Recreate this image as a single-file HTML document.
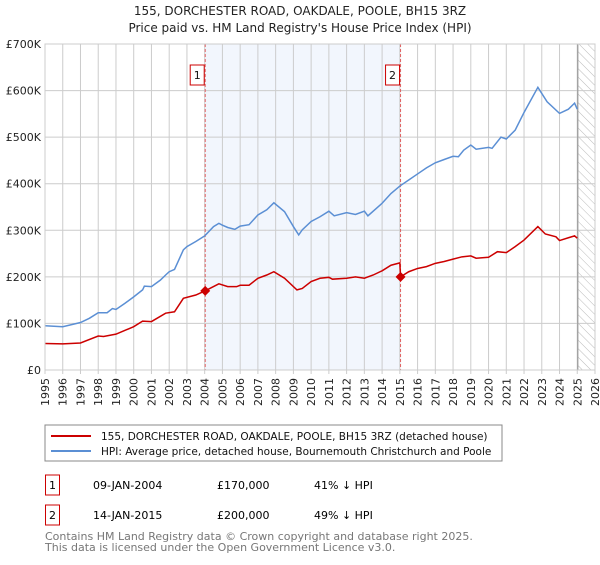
<!DOCTYPE html>
<html><head><meta charset="utf-8"><style>
body{margin:0;background:#fff;font-family:"Liberation Sans","DejaVu Sans",sans-serif;}
svg text{font-family:"DejaVu Sans","Liberation Sans",sans-serif;}
</style></head><body>
<svg id="chart" width="600" height="560" viewBox="0 0 600 560" xmlns="http://www.w3.org/2000/svg">
<defs><pattern id="hatch" width="6" height="6" patternUnits="userSpaceOnUse" patternTransform="rotate(-45)"><line x1="0" y1="0" x2="0" y2="6" stroke="#bbb" stroke-width="1"/></pattern></defs>
<text x="300" y="15" text-anchor="middle" font-size="12" fill="#222">155, DORCHESTER ROAD, OAKDALE, POOLE, BH15 3RZ</text>
<text x="300" y="32" text-anchor="middle" font-size="12" fill="#222">Price paid vs. HM Land Registry's House Price Index (HPI)</text>
<g id="grid"></g><g id="marks"></g><g id="axes"></g>
<rect x="45" y="425" width="457" height="36" fill="#fff" stroke="#888"/>
<line x1="51" y1="436" x2="91" y2="436" stroke="#cc0000" stroke-width="2"/>
<text x="101" y="440" font-size="10.5" fill="#111">155, DORCHESTER ROAD, OAKDALE, POOLE, BH15 3RZ (detached house)</text>
<line x1="51" y1="451" x2="91" y2="451" stroke="#5b8fd4" stroke-width="2"/>
<text x="101" y="455" font-size="10.5" fill="#111">HPI: Average price, detached house, Bournemouth Christchurch and Poole</text>
<g>
<rect x="45.5" y="475" width="14" height="20" fill="#fff" stroke="#cc0000"/><text x="52.5" y="489" text-anchor="middle" font-size="11">1</text>
<text x="93" y="489" font-size="11">09-JAN-2004</text><text x="217" y="489" font-size="11">£170,000</text><text x="314" y="489" font-size="11">41% ↓ HPI</text></g>
<g>
<rect x="45.5" y="505" width="14" height="20" fill="#fff" stroke="#cc0000"/><text x="52.5" y="519" text-anchor="middle" font-size="11">2</text>
<text x="93" y="519" font-size="11">14-JAN-2015</text><text x="217" y="519" font-size="11">£200,000</text><text x="314" y="519" font-size="11">49% ↓ HPI</text></g>
<text x="45" y="540" font-size="11" fill="#777">Contains HM Land Registry data © Crown copyright and database right 2025.</text>
<text x="45" y="551" font-size="11" fill="#777">This data is licensed under the Open Government Licence v3.0.</text>
</svg>
<script>
const hpiYears=[1995,1996,1997,1997.5,1998,1998.5,1998.8,1999,1999.5,2000,2000.5,2000.6,2001,2001.5,2001.8,2002,2002.3,2002.8,2003,2003.5,2004,2004.5,2004.8,2005,2005.3,2005.7,2006,2006.5,2007,2007.5,2007.9,2008.5,2009,2009.3,2009.5,2010,2010.5,2011,2011.3,2012,2012.5,2013,2013.2,2014,2014.5,2015,2015.5,2016,2016.5,2017,2017.5,2018,2018.3,2018.6,2019,2019.3,2020,2020.2,2020.7,2021,2021.5,2022,2022.78,2023.3,2024,2024.5,2024.85,2025];
const hpiValues=[95,93,102,111,123,123,132,130,143,157,172,180,179,193,204,211,216,258,265,276,288,308,315,311,306,302,309,312,333,344,359,340,308,290,301,319,329,341,331,338,334,341,331,358,379,395,408,421,434,445,452,459,458,472,483,474,478,476,500,496,515,553,607,576,551,560,573,560];
const priceYears=[1995,1996,1997,1998,1998.3,1999,2000,2000.5,2001,2001.8,2002.3,2002.8,2003.5,2004.03,2004.8,2005.3,2005.8,2006,2006.5,2007,2007.5,2007.9,2008.5,2009.2,2009.5,2010,2010.5,2011,2011.2,2012,2012.5,2013,2013.5,2014,2014.5,2015.0,2015.04,2015.5,2016,2016.5,2017,2017.5,2018,2018.5,2019,2019.3,2020,2020.5,2021,2021.5,2022,2022.78,2023.2,2023.8,2024,2024.5,2024.85,2025];
const priceValues=[57,56,58,73,72,77,93,105,104,122,125,154,161,170,185,179,179,182,182,197,204,211,197,172,175,190,197,199,195,197,200,197,204,213,225,230,200,211,218,222,229,233,238,243,245,240,242,254,252,265,279,308,292,286,278,284,288,283];
const saleYears=[2004.03,2015.04];
const saleValues=[170,200];
const saleLabels=["1","2"];
const yTicks=[0,100,200,300,400,500,600,700];
const yTickLabels=["£0","£100K","£200K","£300K","£400K","£500K","£600K","£700K"];
const xTicks=[1995,1996,1997,1998,1999,2000,2001,2002,2003,2004,2005,2006,2007,2008,2009,2010,2011,2012,2013,2014,2015,2016,2017,2018,2019,2020,2021,2022,2023,2024,2025,2026];

const L=45,R=595,T=44,B=370,X0=1995,X1=2026,YMAX=700,DATA_END=2025.03;
const sx=v=>L+(v-X0)/(X1-X0)*(R-L);
const sy=v=>B-v/YMAX*(B-T);
const NS="http://www.w3.org/2000/svg";
function mk(tag,attrs,parent,text){const e=document.createElementNS(NS,tag);for(const k in attrs)e.setAttribute(k,attrs[k]);if(text!==undefined)e.textContent=text;parent.appendChild(e);return e;}
const grid=document.getElementById('grid'),marks=document.getElementById('marks'),axes=document.getElementById('axes');
const shade=mk('rect',{x:sx(saleYears[0]),y:T,width:sx(saleYears[1])-sx(saleYears[0]),height:B-T,fill:'#eef3fc',opacity:0.75},grid);


const hat=mk('rect',{x:sx(DATA_END),y:T,width:R-sx(DATA_END),height:B-T,fill:'url(#hatch)'},grid);


xTicks.forEach(t=>{const l=mk('line',{x1:sx(t),x2:sx(t),y1:T,y2:B+4,stroke:'#ccc','stroke-width':1},grid);


const tx=mk('text',{x:0,y:0,transform:`translate(${sx(t)+4},${B+8}) rotate(-90)`,'text-anchor':'end','font-size':11,fill:'#222'},axes,String(t));

});
yTicks.forEach((t,i)=>{const l=mk('line',{x1:L,x2:R,y1:sy(t),y2:sy(t),stroke:'#ccc','stroke-width':1},grid);


const tx=mk('text',{x:L-4,y:sy(t)+4,'text-anchor':'end','font-size':11,fill:'#222'},axes,yTickLabels[i]);

});
const endLine=mk('line',{x1:sx(DATA_END),x2:sx(DATA_END),y1:T,y2:B,stroke:'#999','stroke-width':1.2},grid);


saleYears.forEach((y,i)=>{const l=mk('line',{x1:sx(y),x2:sx(y),y1:T,y2:B,stroke:'#e06060','stroke-dasharray':'3,2','stroke-width':1},marks);


const b=mk('rect',{x:sx(y)-15,y:65,width:14,height:20,fill:'#fff',stroke:'#cc0000'},marks);


const t=mk('text',{x:sx(y)-8,y:79,'text-anchor':'middle','font-size':11,fill:'#111'},marks,saleLabels[i]);

});
const hp=mk('polyline',{points:hpiYears.map((y,i)=>sx(y)+','+sy(hpiValues[i])).join(' '),fill:'none',stroke:'#5b8fd4','stroke-width':1.5},marks);


const pp=mk('polyline',{points:priceYears.map((y,i)=>sx(y)+','+sy(priceValues[i])).join(' '),fill:'none',stroke:'#cc0000','stroke-width':1.5},marks);


saleYears.forEach((y,i)=>{const c=mk('path',{d:`M${sx(y)},${sy(saleValues[i])-5} l5,5 l-5,5 l-5,-5z`,fill:'#cc0000'},marks);

});
const frame=mk('rect',{x:L,y:T,width:R-L,height:B-T,fill:'none',stroke:'#ccc'},axes);


</script>
</body></html>
